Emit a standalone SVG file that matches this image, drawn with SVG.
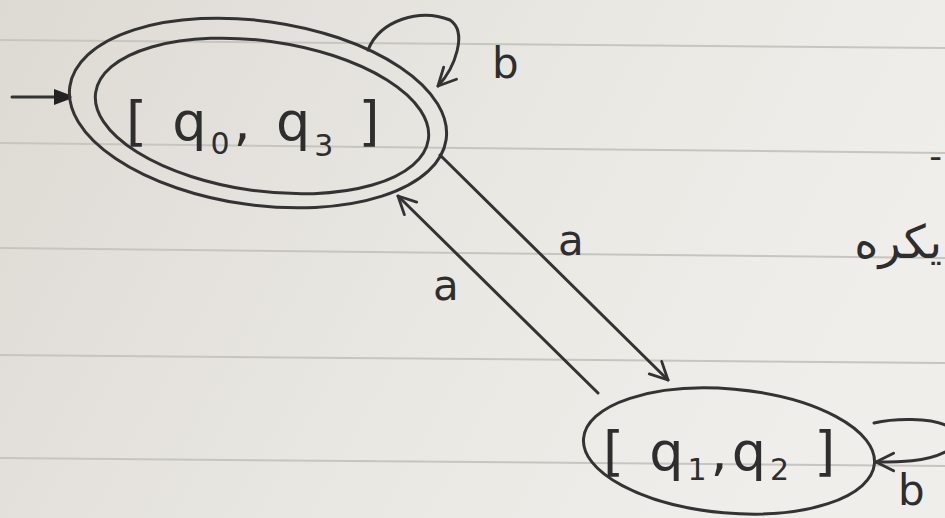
<svg xmlns="http://www.w3.org/2000/svg" width="945" height="518" viewBox="0 0 945 518">
<defs>
<linearGradient id="paper" x1="0" y1="0" x2="1" y2="0.3">
<stop offset="0" stop-color="#dddad4"/>
<stop offset="0.6" stop-color="#eae8e3"/>
<stop offset="1" stop-color="#efeeea"/>
</linearGradient>
<marker id="open" viewBox="0 0 20 20" refX="18" refY="10" markerWidth="22" markerHeight="22" markerUnits="userSpaceOnUse" orient="auto">
<path d="M2,2 L18,10 L2,18" fill="none" stroke="#333" stroke-width="2.6" stroke-linecap="round" stroke-linejoin="round"/>
</marker>
<marker id="solid" viewBox="0 0 20 20" refX="18" refY="10" markerWidth="20" markerHeight="20" markerUnits="userSpaceOnUse" orient="auto">
<path d="M2,2 L18,8 L18,12 L2,18 Z" fill="#222"/>
</marker>
</defs>
<style>
.ink{fill:none;stroke:#333;stroke-width:3;stroke-linecap:round}
.rule{stroke:#c7c5c0;stroke-width:2}
.lbl{font-family:"DejaVu Sans","Liberation Sans",sans-serif;fill:#2e2e2e;font-size:42px}
.st{font-family:"DejaVu Sans","Liberation Sans",sans-serif;fill:#2e2e2e;font-size:54px;letter-spacing:4px}
.sub{font-size:30px}
</style>
<rect width="945" height="518" fill="url(#paper)"/>
<g id="rules">
<line class="rule" x1="0" y1="40" x2="945" y2="48"/>
<line class="rule" x1="0" y1="143" x2="945" y2="153"/>
<line class="rule" x1="0" y1="248" x2="945" y2="258"/>
<line class="rule" x1="0" y1="355" x2="945" y2="363"/>
<line class="rule" x1="0" y1="458" x2="945" y2="466"/>
</g>
<g id="connectors">
<line class="ink" x1="12" y1="97" x2="70" y2="97" marker-end="url(#solid)"/>
<path class="ink" d="M368,50 C380,20 420,8 450,20 C468,32 455,68 438,86" marker-end="url(#open)"/>
<line class="ink" x1="440" y1="155" x2="668" y2="380" marker-end="url(#open)"/>
<line class="ink" x1="598" y1="393" x2="398" y2="196" marker-end="url(#open)"/>
<path class="ink" d="M874,423 C895,418 930,418 945,425 M945,452 C925,462 900,462 876,462" marker-end="url(#open)"/>
<text class="lbl" x="492" y="78">b</text>
<text class="lbl" x="558" y="255">a</text>
<text class="lbl" x="433" y="300">a</text>
<text class="lbl" x="898" y="505">b</text>
</g>
<g id="q0q3">
<ellipse class="ink" cx="258" cy="113" rx="190" ry="92" transform="rotate(8 258 113)"/>
<ellipse class="ink" cx="262" cy="116" rx="168" ry="75" transform="rotate(8 262 116)"/>
<text class="st" x="126" y="140">[ q<tspan class="sub" dy="14">0</tspan><tspan dy="-14">, q</tspan><tspan class="sub" dy="16">3</tspan><tspan dy="-16"> ]</tspan></text>
</g>
<g id="q1q2">
<ellipse class="ink" cx="729" cy="451" rx="146" ry="62" transform="rotate(5 729 451)"/>
<text class="st" x="603" y="470">[ q<tspan class="sub" dy="10">1</tspan><tspan dy="-10">,q</tspan><tspan class="sub" dy="10">2</tspan><tspan dy="-10"> ]</tspan></text>
</g>
<g id="note">
<text x="942" y="258" text-anchor="end" font-family="DejaVu Sans, sans-serif" font-size="46" fill="#2e2e2e">یکره</text>
<text x="940" y="160" text-anchor="end" font-family="DejaVu Sans, sans-serif" font-size="30" fill="#2e2e2e">ـ</text>
</g>
</svg>
